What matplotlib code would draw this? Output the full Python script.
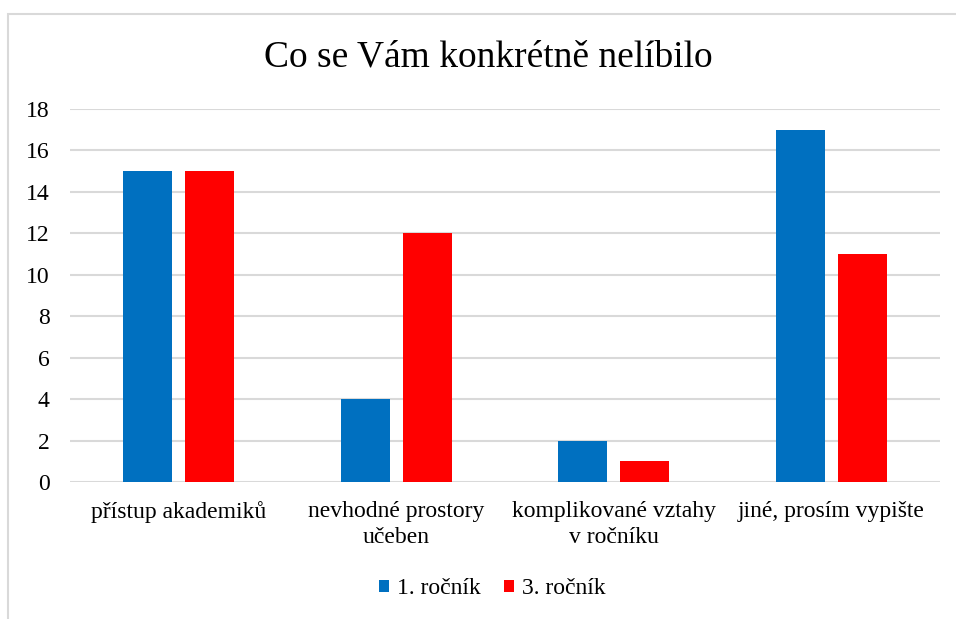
import matplotlib
matplotlib.use("Agg")
import matplotlib.pyplot as plt
import numpy as np
from matplotlib.patches import Rectangle

categories = ["přístup akademiků", "nevhodné prostory\nučeben", "komplikované vztahy\nv ročníku", "jiné, prosím vypište"]
series_names = ["1. ročník", "3. ročník"]
values_1 = [15, 4, 2, 17]
values_3 = [15, 12, 1, 11]
colors = ["#0070C0", "#FF0000"]
yticks = [0, 2, 4, 6, 8, 10, 12, 14, 16, 18]

plt.rcParams['font.family'] = ['Liberation Serif', 'DejaVu Serif']

W, H = 956, 619
fig = plt.figure(figsize=(W/100, H/100), dpi=100)

# chart border (right and bottom edges lie outside the picture)
fig.patches.append(Rectangle((8/W, -0.2), 1.2, 1.2 - 14/H, transform=fig.transFigure,
                             fill=False, edgecolor="#d9d9d9", linewidth=1.5))

left, right, top, bottom = 70, 940, 109, 482
ax = fig.add_axes([left/W, 1 - bottom/H, (right-left)/W, (bottom-top)/H])

x = np.arange(len(categories))
bw = 0.225
off = 0.1425
ax.bar(x - off, values_1, bw, color=colors[0], label=series_names[0], zorder=3)
ax.bar(x + off, values_3, bw, color=colors[1], label=series_names[1], zorder=3)

ax.set_xlim(-0.5, len(categories) - 0.5)
ax.set_ylim(0, 18)
ax.set_yticks(yticks)
ax.set_yticklabels([str(t) for t in yticks], fontsize=17)
ax.set_xticks(x)
ax.set_xticklabels(categories, fontsize=17, linespacing=1.3)
ax.tick_params(axis='both', length=0, colors='#000000')
ax.tick_params(axis='y', pad=14.5)
ax.tick_params(axis='x', pad=13.5)
ax.grid(axis='y', color='#d9d9d9', linewidth=1.5, zorder=0)
for s in ax.spines.values():
    s.set_visible(False)

fig.text(488/W, 1 - 57/H, "Co se Vám konkrétně nelíbilo", ha='center', va='center', fontsize=27)

fig.legend(loc='center', bbox_to_anchor=(492/W, 1 - 589/H), ncol=2, frameon=False,
           fontsize=17, handlelength=0.45, handleheight=0.45, handletextpad=0.3, columnspacing=1.0)

fig.savefig("out.png", dpi=100)
